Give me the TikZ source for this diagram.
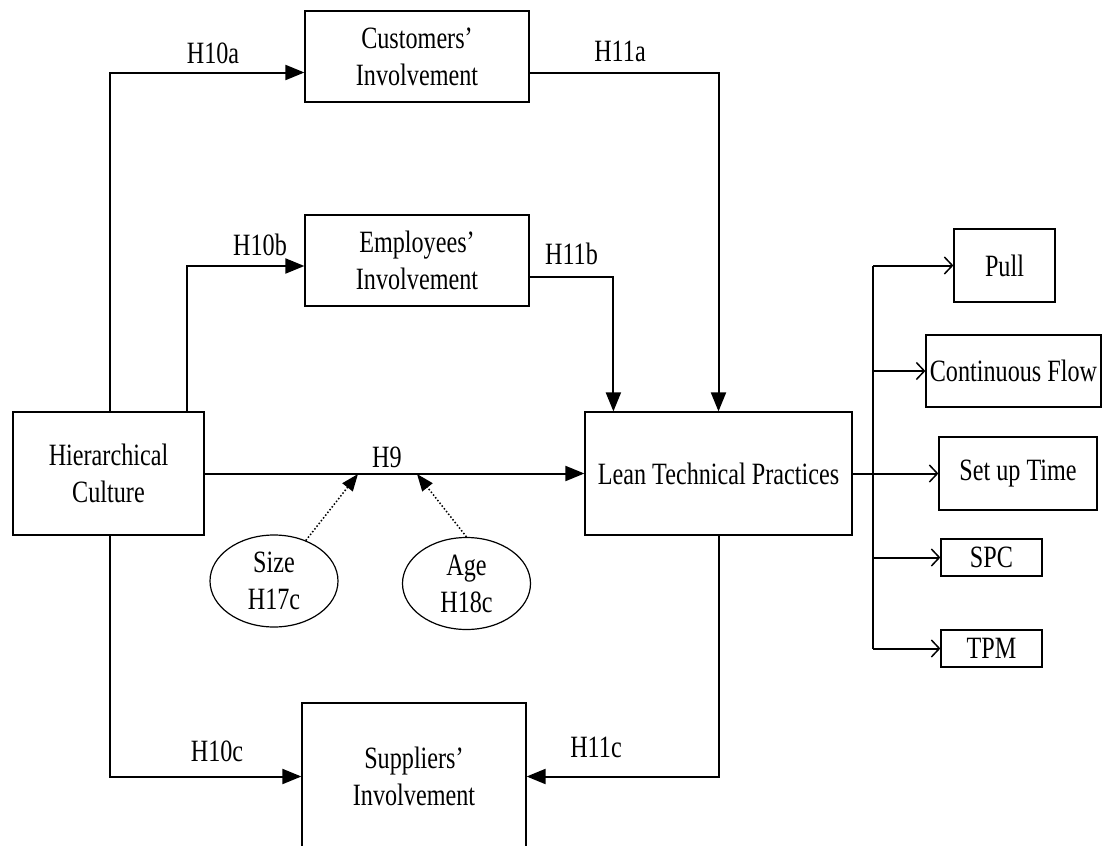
\documentclass[tikz,border=0pt]{standalone}
\usepackage{fontspec}
\setmainfont[FakeStretch=0.78]{Liberation Serif}
\usetikzlibrary{arrows.meta,shapes.geometric}
\begin{document}
\begin{tikzpicture}[x=1pt,y=-1pt,
  txt/.style={font=\fontsize{31}{37}\selectfont},
  box/.style={txt, draw, line width=1.2pt, inner sep=0pt, align=center},
  oval/.style={txt, draw, ellipse, line width=1.2pt, inner sep=0pt, align=center, minimum width=128pt, minimum height=92pt},
  lbl/.style={txt, inner sep=0pt},
  conn/.style={line width=2pt, -{Triangle[length=19pt,width=15pt]}},
  plain/.style={line width=2pt},
  barb/.style={line width=2pt, -{Straight Barb[length=8pt,width=17pt,line width=1.5pt]}},
  modarrow/.style={line width=1.5pt, dotted, -{Triangle[length=17pt,width=13pt]}}
]
\clip (0,0) rectangle (1104,846);
\fill[white] (0,0) rectangle (1104,846);

% boxes
\node[box, minimum width=224pt, minimum height=91pt] (cust) at (417,56.5) {Customers'\\Involvement};
\node[box, minimum width=224pt, minimum height=91pt] (emp) at (417,260.5) {Employees'\\Involvement};
\node[box, minimum width=191pt, minimum height=123pt] (hier) at (108.5,473.5) {Hierarchical\\Culture};
\node[box, minimum width=267pt, minimum height=123pt] (lean) at (718.5,473.5) {Lean Technical Practices};
\node[box, minimum width=224pt, minimum height=147pt] (sup) at (414,776.5) {Suppliers'\\Involvement};
\node[box, minimum width=101pt, minimum height=73pt] (pull) at (1004.5,265.5) {Pull};
\node[box, minimum width=175pt, minimum height=72pt] (cflow) at (1013.5,371) {Continuous Flow};
\node[box, minimum width=158pt, minimum height=73pt] (setup) at (1018,473.5) {Set up Time};
\node[box, minimum width=101pt, minimum height=37pt] (spc) at (991.5,557.5) {SPC};
\node[box, minimum width=101pt, minimum height=37pt] (tpm) at (991.5,648.5) {TPM};
\node[oval] (size) at (274,581) {Size\\H17c};
\node[oval] (age) at (466.5,583.5) {Age\\H18c};

% main connectors
\draw[conn] ([xshift=98pt]hier.north west) |- ([yshift=-16pt]cust.west);
\draw[conn] ([xshift=175pt]hier.north west) |- ([yshift=-5.5pt]emp.west);
\draw[conn] ([yshift=-16pt]cust.east) -| (lean.north);
\draw[conn] ([yshift=-16pt]emp.east) -| ([xshift=29pt]lean.north west);
\draw[conn] (hier.east) -- (lean.west);
\draw[conn] ([xshift=98pt]hier.south west) |- (sup.west);
\draw[conn] (lean.south) |- (sup.east);

% moderators
\coordinate (t1) at (358,474);
\coordinate (t2) at (417,474);
\draw[modarrow] (size) -- (t1);
\draw[modarrow] (age.north) -- (t2);

% right bus
\coordinate (bx) at (873,0);
\draw[plain] (bx |- pull.west) -- (bx |- tpm.west);
\draw[barb] (lean.east) -- (setup.west);
\draw[barb] (bx |- pull.west) -- (pull.west);
\draw[barb] (bx |- cflow.west) -- (cflow.west);
\draw[barb] (bx |- spc.west) -- (spc.west);
\draw[barb] (bx |- tpm.west) -- (tpm.west);

% labels
\node[lbl] (l10a) at (213,53) {H10a};
\node[lbl] (l10b) at (260,245) {H10b};
\node[lbl] (l11a) at (620,51) {H11a};
\node[lbl] (l11b) at (571.5,254) {H11b};
\node[lbl] (l9) at (387,457) {H9};
\node[lbl] (l10c) at (217,751) {H10c};
\node[lbl] (l11c) at (596,747) {H11c};
\end{tikzpicture}
\end{document}
